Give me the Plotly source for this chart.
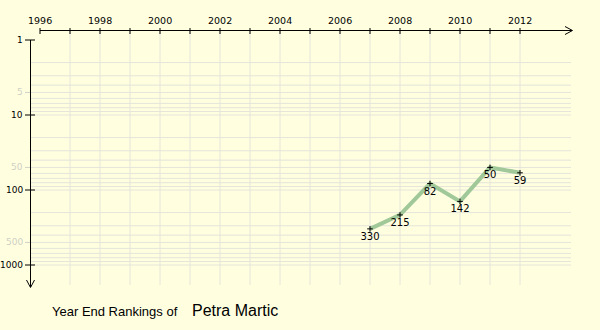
import math
import plotly.graph_objects as go

# ---- data ----
years = [2007, 2008, 2009, 2010, 2011, 2012]
ranks = [330, 215, 82, 142, 50, 59]
x_tick_years = list(range(1996, 2013))
x_label_years = [1996, 1998, 2000, 2002, 2004, 2006, 2008, 2010, 2012]
y_major = [1, 10, 100, 1000]
y_minor_labels = [5, 50, 500]
player = "Petra Martic"

W, H = 600, 330
BG = "#FFFFE0"
GRID = "#E4E4DA"
TICKFONT = dict(family="DejaVu Sans", size=9.5, color="black")
YFONT = dict(family="DejaVu Sans", size=9, color="black")


def py(p):  # pixel row -> paper y
    return 1 - p / H


def px(p):  # pixel col -> paper x
    return p / W


fig = go.Figure()
fig.add_trace(go.Scatter(
    x=years, y=ranks, mode="lines+markers+text",
    line=dict(color="#A0C898", width=4),
    marker=dict(symbol="cross-thin", size=4, line=dict(color="black", width=1), color="black"),
    text=[str(r) for r in ranks], textposition="bottom center",
    textfont=dict(family="DejaVu Sans", size=10, color="black"),
    hoverinfo="skip", showlegend=False, cliponaxis=False,
))

shapes = []
# vertical gridlines
for yr in x_tick_years[1:]:
    shapes.append(dict(type="line", xref="x", yref="paper", x0=yr, x1=yr,
                       y0=py(30), y1=py(285), line=dict(color=GRID, width=1), layer="below"))
# horizontal gridlines
grid_vals = [m * 10 ** e for e in range(0, 3) for m in range(2, 11)]
for v in grid_vals:
    shapes.append(dict(type="line", xref="paper", yref="y", x0=px(30), x1=px(571),
                       y0=v, y1=v, line=dict(color=GRID, width=1), layer="below"))
# x axis line + ticks + arrow
shapes.append(dict(type="line", xref="x", yref="paper", x0=1996, x1=1996 + (572 - 40) / 30,
                   y0=py(30.5), y1=py(30.5), line=dict(color="black", width=1)))
for yr in x_tick_years:
    shapes.append(dict(type="line", xref="x", yref="paper", x0=yr, x1=yr,
                       y0=py(28), y1=py(34), line=dict(color="black", width=1)))
shapes.append(dict(type="path", xref="paper", yref="paper",
                   path=f"M {px(565)} {py(26.5)} L {px(572.5)} {py(30.5)} L {px(565)} {py(34.5)}",
                   line=dict(color="black", width=1)))
# y axis line + ticks + arrow
shapes.append(dict(type="line", xref="paper", yref="paper", x0=px(30.5), x1=px(30.5),
                   y0=py(40), y1=py(287), line=dict(color="black", width=1)))
for v in y_major:
    shapes.append(dict(type="line", xref="paper", yref="y", x0=px(25), x1=px(35),
                       y0=v, y1=v, line=dict(color="black", width=1)))
for v in y_minor_labels:
    shapes.append(dict(type="line", xref="paper", yref="y", x0=px(25), x1=px(30),
                       y0=v, y1=v, line=dict(color="#D0D0C4", width=1)))
shapes.append(dict(type="path", xref="paper", yref="paper",
                   path=f"M {px(26.5)} {py(280)} L {px(30.5)} {py(287.5)} L {px(34.5)} {py(280)}",
                   line=dict(color="black", width=1)))

annotations = []
for yr in x_label_years:
    annotations.append(dict(x=yr, y=py(20.5), xref="x", yref="paper", text=str(yr),
                            showarrow=False, xanchor="center", yanchor="middle",
                            font=TICKFONT))
for v in y_major:
    annotations.append(dict(x=px(24.5), y=math.log10(v), xref="paper", yref="y", text=str(v),
                            showarrow=False, xanchor="right", yanchor="middle",
                            font=YFONT))
for v in y_minor_labels:
    annotations.append(dict(x=px(24.5), y=math.log10(v), xref="paper", yref="y", text=str(v),
                            showarrow=False, xanchor="right", yanchor="middle",
                            font=dict(YFONT, color="#CFCFC4")))
annotations.append(dict(x=px(50), y=py(311), xref="paper", yref="paper",
                        text="Year End Rankings of", showarrow=False,
                        xanchor="left", yanchor="middle",
                        font=dict(family="Liberation Sans", size=13, color="black")))
annotations.append(dict(x=px(190), y=py(310), xref="paper", yref="paper",
                        text=player, showarrow=False, xanchor="left", yanchor="middle",
                        font=dict(family="Liberation Sans", size=16, color="black")))

fig.update_layout(
    width=W, height=H, margin=dict(l=0, r=0, t=0, b=0),
    paper_bgcolor=BG, plot_bgcolor=BG,
    xaxis=dict(range=[1996 - 40 / 30, 1996 + 560 / 30], visible=False, fixedrange=True),
    yaxis=dict(type="log", range=[290 / 75, -40 / 75], visible=False, fixedrange=True),
    shapes=shapes, annotations=annotations,
)
fig.write_html("out.html")
